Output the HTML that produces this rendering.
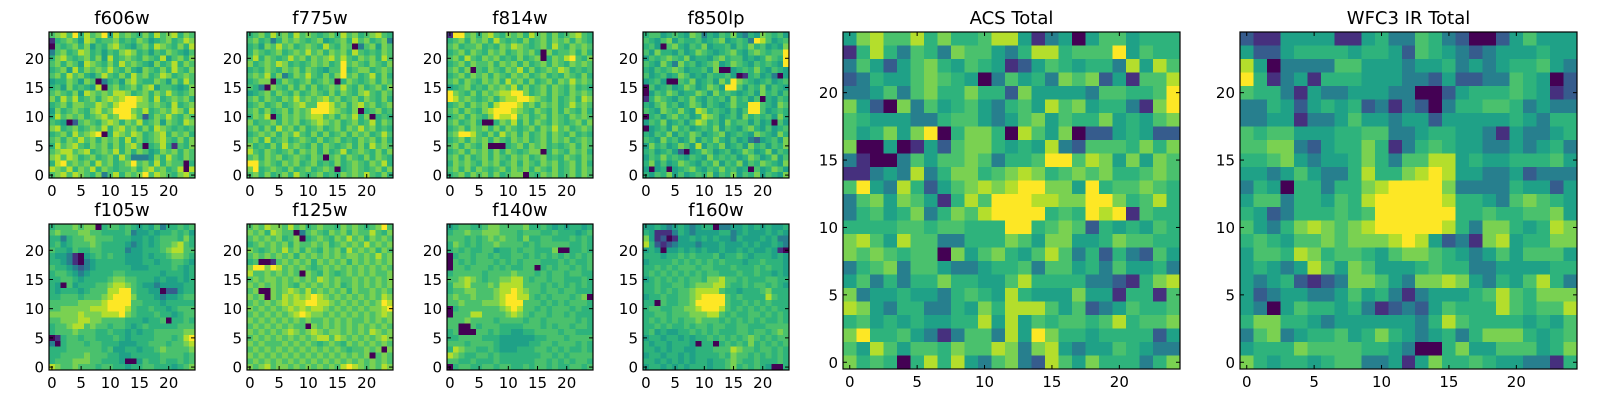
<!DOCTYPE html>
<html><head><meta charset="utf-8"><title>Filter cutouts</title>
<style>
html,body{margin:0;padding:0;background:#fff;}
svg{display:block;font-family:"DejaVu Sans","Liberation Sans",sans-serif;}
</style></head>
<body>
<svg id="fig" width="1600" height="400" viewBox="0 0 1600 400" xmlns="http://www.w3.org/2000/svg"></svg>
<script>
// Data: each grid lists rows from y=24 (top) down to y=0, 25 values per row, levels 0..9
const f606w = ["6786958679486765758678576","1567648756675657645675687","0656757465786546758765758","3675687564657875646576546","5786567574856765765846757","6757648765758676547568576","5674857676865754765758657","6758675468657586756875676","4557647603564786557647586","5647565480675675784665457","6765748767688756757686567","7586856757878998758567675","5675776687689997767658567","4756765786799976856768758","5867675678679986257686576","6540267657875768567476587","7856756768578675758765656","5675867890587687567857675","6757686757675857567865757","5867865767575786056851657","6788678567685757645767576","7868756756758633347586576","5896767586756796758576605","8768576857656675786756808","6786876573685767968765786"];
const f775w = ["5675867586765675867567865","6756357676567456758675673","5647686756765865760367476","5765675676867576758656576","6857656867576786865767586","7567687565676756967657657","5657657675765466956775676","6768573576865757967568575","5677057656756760576567576","6530765757575676865756757","4567576575676575765786576","6757657686767867567576575","5675675678669986757867567","6757567576799987657056756","5768057676788675768570565","7566757675678767567568576","6757586757567567576867565","5676757686575756757675686","6758567567657567565767575","7565758676575765675758676","8657656757675756856765757","6757675676576067576575765","9967657675675657567657685","7956765756756760567656757","6757567586567565767686575"];
const f814w = ["1996757865767586757567865","5675767586565756757675765","6756675657687656758657676","5675765767567675075667575","6758657675657567057689657","5675766757675756757657676","6757065765768575676875656","5675767576576756756576575","6757657675867575675768676","4567565767685756757657565","9765757678899756757657676","9867656757889987657567587","5675767589998675767568676","6757657899987657657576575","5675765798896756757657676","6756750057685757657656757","5675767575765675768675676","6799865758675756757657565","5675767576576756757675676","6757657000567576756567576","5675767575765677057657675","6757567576576756756576576","5767657675675765767567575","6757576567576757657567576","5675767575677065767567576"];
const f850lp = ["5664565476354657435476564","6546746556456745653986456","5640675465745564657564547","6475546457654567546765669","4656765745546756645457659","6547537564567457654656549","5465676455647004565754654","6456457645465564015645304","4564006574564759765456456","0645645764576499646574654","0465764557647565456475646","1576546575465647564605465","5467564576465457559965476","6547657548756546469964565","0564675645876456475656475","4657456468756475664645064","0456475645657465467546456","5465746576456745654765475","6547564574657546453245647","4756457648465745647564657","5645642045764564576457465","4657565465475656457645746","5746457654657465746576547","4045045675465756450645764","5465746456574657465746547"];
const f105w = ["5666767705665654546355656","6766677665555634454556564","5535667766655544545666575","5645666765555434545667865","6554655665555344555678866","5443104565655444545567765","5543103455555444554556654","6554323455555544455556545","5665434555566555555455545","5566545555677665554544545","5406455566788765443444455","5455545666889965544022455","5566656667899975554344566","6666677778999966555455555","6677777888999865565545666","7777787778889765556554566","6677788776666555455605565","5667886766566545655555666","5666766655655454556666677","0156656655565455556665689","3056665665554445566656678","5556666665644554556766667","5566667666554455555666656","5666777665554004655655656","8766766656655455665554567"];
const f125w = ["6768776867567665767656796","7675876603676576757668657","6767675670567657686757676","5676767576676756767686767","7656768675765767586767576","6767676757676767677676867","5600167676757676757676767","7997986767656767676767676","8667676760765765676767667","6767767676768767667676767","7676767657676767567676767","6700767876867676757667676","7670768787898767676767687","6767678788998876767676798","7676767878788767676767789","6767676789877676767676787","7676767676766767676676767","6767676766076767676767676","7676767876787677676768767","6767676767678868767676787","7676667676765676576767676","6767676767676767656676707","7676767676767676767670676","6767676767676767676767676","7678677676767676898767687"];
const f140w = ["4566556776666755654545545","5667667776665666556555456","6665656767665755665556565","5765656676666565666665565","5656556645565665557005565","0566566565566565656565656","0656566656565666555656556","0665666565655660565665656","5666665666676665656656655","6678765667788656656655565","5778666768888666565656565","5667766678898766566566555","6766766678998865656665670","6676667778999666565656665","0566666667898665656665655","0666886666787656656656555","6667666656666566566666565","6600656665555666565665665","5600066565544556666566555","5566665554444445566656666","6665666654444455665666565","5876655654445556656565565","8765566565555555665656666","6655655565555556656565665","0566556656655656656556656"];
const f160w = ["4454345434550334454545445","5411135434444553454445454","7412014454545443544454533","8521234443444544454544543","4540445454544544545445410","5554556565556455654555454","4555565656565655545565554","5565656665665556555656554","5656565656566555655655454","4565656566577866565556655","5565566567778865565665654","5565656678888655455567555","4556556678999965655558655","5506556679999965565656555","5665566778999865656565655","5566566677788656556656565","5656565667666565656565565","5565655656656655665556666","5645445565656555665665676","4554554545565656567656566","5455455540550565657565656","5545455445556668766566565","4554554545555657665656565","5545454545545567655655565","4554545455545567565654005"];
const acsTotal = ["4786685755688413404664555","1585365376643588566694655","3642467546541246545538486","2354467654036453767241668","3346367557552744443665569","7420736456435648674553179","6544433566434674655745467","6457479057750864702245422","7004014267754548326665757","3100364667635569968747476","1134383577567875676755676","6943852467878997749566765","3674764158699988779975685","3564573576899995659891655","5555665665559956762545465","7864866335557647744576655","7676566074675468635253264","3567366433455636645364453","4635355755446855553321578","7344544356548544474415516","8743553354758886462346556","5645454455848465665685667","7955643136638497554555524","6486466576687378434465433","7565058584367328647555357"];
const wfc3Total = ["2114444114533653200246444","4224555545542654323444544","8403333664443445343455643","9513415554443324223365402","6553143344433002455565412","3354245452313203556653433","3344133464434424444454355","6566444556633455443143345","6677324557513565443343453","5567434457536688454455564","4434643358557898443342333","3540553557899997333354424","4663554658999998554367654","5423555656999999556556674","6435787678999998537754587","5654667677789842317845577","4665875665467765434646664","4543486476444565533444455","4345212377643778743546853","4234433464531344456865777","4304655453123246555865668","5775543444444358655554546","3673455645754345357775456","4555766665543005744666457","7545545663341475565443315"];

const xTickVals = [0,5,10,15,20];
const yTickVals = [0,5,10,15,20];
const viridis = ["#440154","#46307e","#365c8d","#277f8e","#1fa187","#2eb37c","#4ac16d","#7ad151","#b4de2c","#fde725"];

const panels = [
  {name:"f606w", data:f606w, x:49,  y:32,  s:146},
  {name:"f775w", data:f775w, x:247, y:32,  s:146},
  {name:"f814w", data:f814w, x:447, y:32,  s:146},
  {name:"f850lp",data:f850lp,x:643, y:32,  s:146},
  {name:"f105w", data:f105w, x:49,  y:224, s:146},
  {name:"f125w", data:f125w, x:247, y:224, s:146},
  {name:"f140w", data:f140w, x:447, y:224, s:146},
  {name:"f160w", data:f160w, x:643, y:224, s:146},
  {name:"ACS Total", data:acsTotal, x:843, y:32, s:337},
  {name:"WFC3 IR Total", data:wfc3Total, x:1240, y:32, s:337}
];

const NS = "http://www.w3.org/2000/svg";
const svg = document.getElementById("fig");
function mk(tag, attrs, parent){
  const e = document.createElementNS(NS, tag);
  for (const k in attrs) e.setAttribute(k, attrs[k]);
  parent.appendChild(e);
  return e;
}

panels.forEach(p => {
  const slug = p.name.toLowerCase().replace(/\s+/g,'-');
  const g = mk("g", {}, svg);
  
  
  const n = p.data.length;
  const cell = p.s / n;
  const sx = v => p.x + (v + 0.5) * cell;
  const sy = v => p.y + p.s - (v + 0.5) * cell;
  const img = mk("g", {"shape-rendering":"crispEdges"}, g);
  
  
  p.data.forEach((row, ri) => {
    const yv = n - 1 - ri;
    for (let ci = 0; ci < row.length; ci++) {
      const lv = parseInt(row[ci], 10);
      const r = mk("rect", {x:(sx(ci)-cell/2).toFixed(2), y:(sy(yv)-cell/2).toFixed(2), width:(cell+0.4).toFixed(2), height:(cell+0.4).toFixed(2), fill:viridis[lv]}, img);
      
      
    }
  });
  const fr = mk("rect", {x:p.x, y:p.y, width:p.s, height:p.s, fill:"none", stroke:"#000", "stroke-width":1.2}, g);
  
  
  const fs = 15;
  const tl = 4;
  xTickVals.forEach(v => {
    const X = sx(v);
    mk("line", {x1:X, y1:p.y+p.s, x2:X, y2:p.y+p.s-tl, stroke:"#000", "stroke-width":1}, g);
    mk("line", {x1:X, y1:p.y, x2:X, y2:p.y+tl, stroke:"#000", "stroke-width":1}, g);
    const t = mk("text", {x:X, y:p.y+p.s+18, "text-anchor":"middle", "font-size":fs, fill:"#000"}, g);
    
    
    t.textContent = v;
  });
  yTickVals.forEach(v => {
    const Y = sy(v);
    mk("line", {x1:p.x, y1:Y, x2:p.x+tl, y2:Y, stroke:"#000", "stroke-width":1}, g);
    mk("line", {x1:p.x+p.s, y1:Y, x2:p.x+p.s-tl, y2:Y, stroke:"#000", "stroke-width":1}, g);
    const t = mk("text", {x:p.x-5, y:Y+5.5, "text-anchor":"end", "font-size":fs, fill:"#000"}, g);
    
    
    t.textContent = v;
  });
  const title = mk("text", {x:p.x+p.s/2, y:p.y-8, "text-anchor":"middle", "font-size":18, fill:"#000"}, g);
  
  
  title.textContent = p.name;
});
</script>
</body></html>
